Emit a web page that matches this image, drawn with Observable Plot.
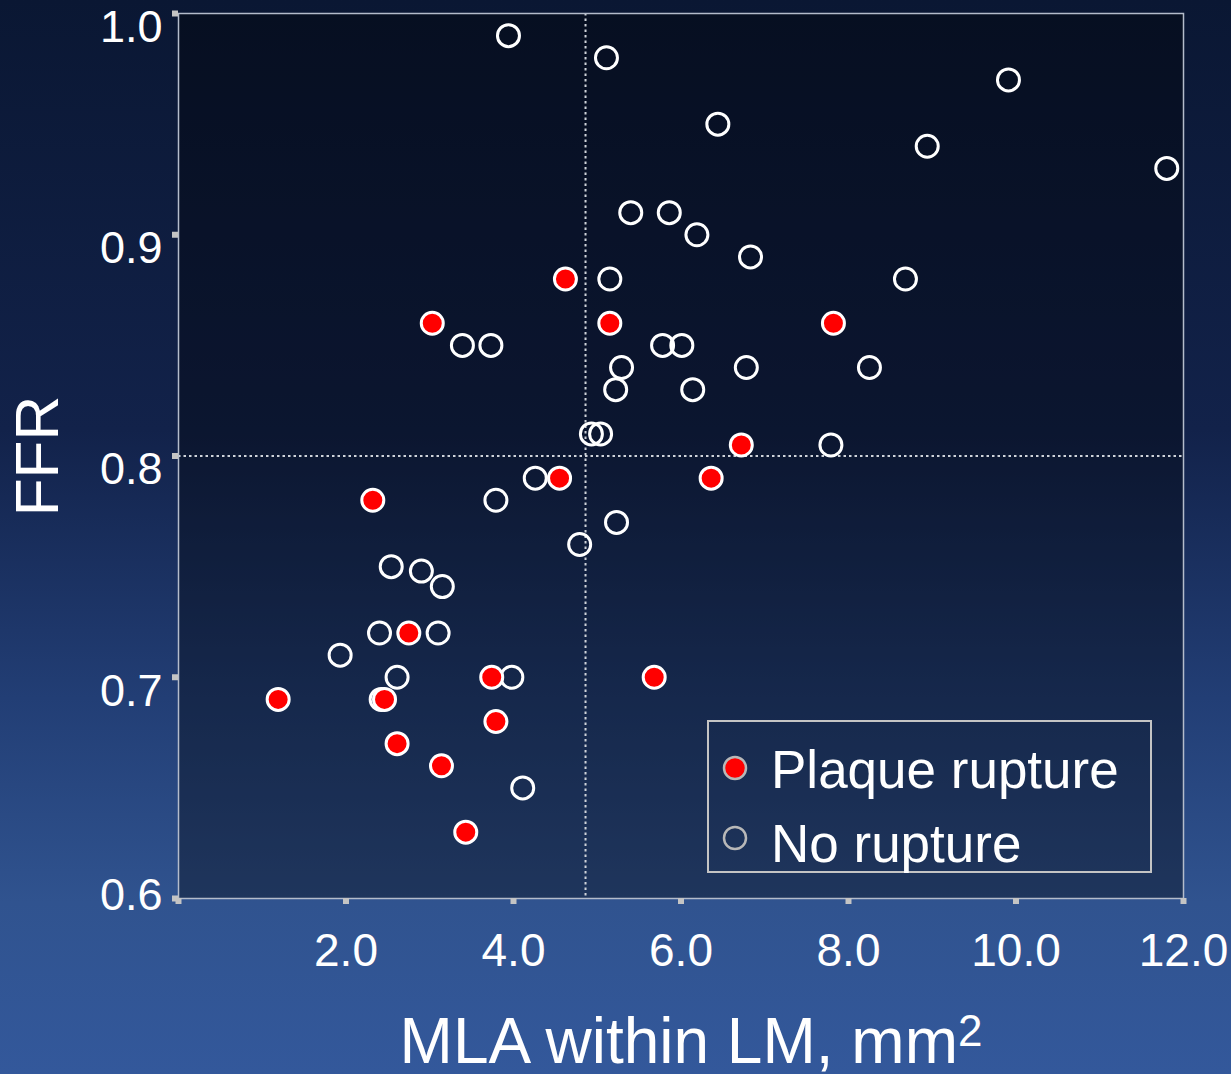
<!DOCTYPE html>
<html><head><meta charset="utf-8">
<script src="https://cdn.jsdelivr.net/npm/d3@7"></script>
<script src="https://cdn.jsdelivr.net/npm/@observablehq/plot@0.6"></script>
<style>
html,body{margin:0;padding:0;background:#0a1733;}
#chart{position:relative;width:1231px;height:1074px;overflow:hidden;
  background:linear-gradient(to bottom,#0a1733 0%,#12224a 40%,#223e75 65%,#30538f 84%,#33589b 100%);
  font-family:"Liberation Sans",Arial,sans-serif;}
#chart svg{display:block;}
#legend{position:absolute;left:0;top:0;pointer-events:none;}
</style></head><body><div id="chart"></div>
<script>
// ---- data ----
const noRuptureMLA = [3.94,5.11,9.91,6.44,8.94,11.80,5.40,5.86,6.19,6.83,5.15,8.68,3.39,3.73,5.78,6.01,5.29,6.78,8.25,5.22,6.14,4.93,5.04,7.79,4.26,3.79,5.23,4.79,2.54,2.90,3.15,2.40,3.10,1.93,2.61,3.98,2.42,4.11];
const noRuptureFFR = [0.99,0.98,0.97,0.95,0.94,0.93,0.91,0.91,0.90,0.89,0.88,0.88,0.85,0.85,0.85,0.85,0.84,0.84,0.84,0.83,0.83,0.81,0.81,0.805,0.79,0.78,0.77,0.76,0.75,0.748,0.741,0.72,0.72,0.71,0.70,0.70,0.69,0.65];
const ruptureMLA = [4.62,3.03,5.15,7.82,6.72,4.55,6.36,2.32,2.75,3.74,5.68,1.19,2.46,3.79,2.61,3.14,3.43];
const ruptureFFR = [0.88,0.86,0.86,0.86,0.805,0.79,0.79,0.78,0.72,0.70,0.70,0.69,0.69,0.68,0.67,0.66,0.63];
const mlaCutoff = 4.86;
const ffrCutoff = 0.80;
const xTicks = [0,2,4,6,8,10,12];
const xTickLabels = [2,4,6,8,10,12];
const yTicks = [0.6,0.7,0.8,0.9,1.0];
const yTickLabelsUpper = [0.7,0.8,0.9,1.0];
const yTickLabelsLower = [0.6];
const xTitleBase = "MLA within LM, mm";
const xTitleSup = "2";
const yTitle = "FFR";
const legendLabels = ["Plaque rupture", "No rupture"];

const noRupture = noRuptureMLA.map((m,i)=>({mla:m, ffr:noRuptureFFR[i]}));
const rupture = ruptureMLA.map((m,i)=>({mla:m, ffr:ruptureFFR[i]}));
const fmt = d3.format(".1f");
const font = "Liberation Sans, Arial, sans-serif";

const plot = Plot.plot({
  width: 1231, height: 1074,
  marginLeft: 178, marginRight: 48, marginTop: 13, marginBottom: 176,
  style: {background: "transparent", color: "white", fontFamily: font},
  x: {domain: [0, 12]},
  y: {domain: [0.6, 1.0]},
  marks: [
    Plot.frame({fill: "black", fillOpacity: 0.35, stroke: null}),
    Plot.ruleX([mlaCutoff], {stroke: "#cfd3da", strokeWidth: 2, strokeDasharray: "2.5,3"}),
    Plot.ruleY([ffrCutoff], {stroke: "#cfd3da", strokeWidth: 2, strokeDasharray: "2.5,3"}),
    Plot.frame({stroke: "#b4bccb", strokeWidth: 1.5}),
    Plot.axisX({ticks: xTicks, tickSize: 6, strokeWidth: 6, stroke: "#c4c4c4", tickFormat: () => "", label: null}),
    Plot.axisY({ticks: yTicks, tickSize: 6, strokeWidth: 6, stroke: "#c4c4c4", tickFormat: () => "", label: null}),
    Plot.axisX({ticks: xTickLabels, tickSize: 0, tickPadding: 35, fontSize: 46, tickFormat: fmt, fill: "white", label: null}),
    Plot.axisY({ticks: yTickLabelsUpper, tickSize: 0, tickPadding: 16, fontSize: 45, dy: 14, tickFormat: fmt, fill: "white", label: null}),
    Plot.axisY({ticks: yTickLabelsLower, tickSize: 0, tickPadding: 16, fontSize: 45, dy: -3, tickFormat: fmt, fill: "white", label: null}),
    Plot.dot(noRupture, {x: "mla", y: "ffr", r: 11, stroke: "white", strokeWidth: 3, fill: "none"}),
    Plot.dot(rupture, {x: "mla", y: "ffr", r: 11, stroke: "white", strokeWidth: 3, fill: "#ff0000"}),
    Plot.text([xTitleBase + xTitleSup], {text: d => d, frameAnchor: "bottom", dy: 164, dx: 10, fontSize: 64, lineAnchor: "bottom", textAnchor: "middle", fill: "white"}),
    Plot.text([yTitle], {text: d => d, frameAnchor: "left", dx: -140, rotate: -90, fontSize: 62, textAnchor: "middle", lineAnchor: "middle", fill: "white"})
  ]
});
const chart = document.getElementById("chart");
chart.appendChild(plot);

// superscript in x title
const xt = Array.from(plot.querySelectorAll("text")).find(t => t.textContent === xTitleBase + xTitleSup);
if (xt) {
  while (xt.firstChild) xt.removeChild(xt.firstChild);
  xt.appendChild(document.createTextNode(xTitleBase));
  const ts = document.createElementNS("http://www.w3.org/2000/svg", "tspan");
  ts.setAttribute("font-size", "44");
  ts.setAttribute("dy", "-17");
  ts.textContent = xTitleSup;
  xt.appendChild(ts);
}

// legend overlay
const lg = d3.select(chart).append("svg").attr("id","legend").attr("width",1231).attr("height",1074);
lg.append("rect").attr("x",708).attr("y",721).attr("width",443).attr("height",151)
  .attr("fill","none").attr("stroke","#c4c4c4").attr("stroke-width",2);
lg.append("circle").attr("cx",735).attr("cy",768).attr("r",11).attr("fill","#ff0000").attr("stroke","#b8b8b8").attr("stroke-width",2.5);
lg.append("circle").attr("cx",735).attr("cy",838).attr("r",11).attr("fill","none").attr("stroke","#b8b8b8").attr("stroke-width",2.5);
lg.append("text").attr("x",771).attr("y",788).attr("fill","white").attr("font-size",53).attr("font-family",font).text(legendLabels[0]);
lg.append("text").attr("x",771).attr("y",862).attr("fill","white").attr("font-size",53).attr("font-family",font).text(legendLabels[1]);
</script></body></html>
